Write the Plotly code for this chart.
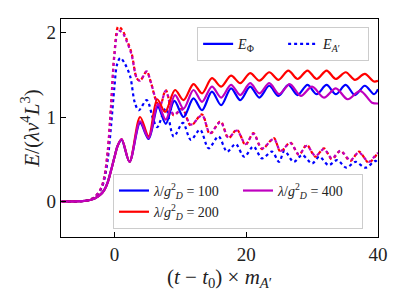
import plotly.graph_objects as go

# ---------------- data ----------------
# E_Phi (solid), lambda/g^2 = 100 (blue)
x_phi_100 = [-8, -5, -4, -3, -2, -1.5, -1, -0.5, 0, 0.5, 1.1, 2.3, 3.9, 5.2, 6.6, 7.8, 9.1, 10.5, 12.0, 13.3,
             14.8, 16.2, 17.7, 19.1, 20.6, 22.0, 23.5, 24.9, 26.4, 27.8, 29.3, 30.7, 32.2, 33.6, 35.1, 36.5, 38.0, 39.4, 40]
y_phi_100 = [0, 0.005, 0.012, 0.035, 0.09, 0.14, 0.23, 0.37, 0.52, 0.66, 0.73, 0.47, 0.93, 0.74, 1.12, 0.92, 1.19, 1.0, 1.22, 1.08,
             1.30, 1.14, 1.34, 1.20, 1.36, 1.23, 1.37, 1.25, 1.38, 1.26, 1.38, 1.27, 1.38, 1.27, 1.38, 1.26, 1.37, 1.27, 1.33]

# E_Phi (solid), lambda/g^2 = 200 (red)
x_phi_200 = [-8, -5, -4, -3, -2, -1.5, -1, -0.5, 0, 0.5, 1.1, 2.3, 3.9, 5.2, 6.5, 7.7, 9.2, 10.5, 12.0, 13.3,
             14.8, 16.2, 17.7, 19.1, 20.6, 22.0, 23.5, 24.9, 26.4, 27.8, 29.3, 30.7, 32.2, 33.6, 35.1, 36.5, 38.0, 39.4, 40]
y_phi_200 = [0, 0.005, 0.012, 0.035, 0.09, 0.14, 0.23, 0.37, 0.52, 0.66, 0.74, 0.47, 1.0, 0.77, 1.21, 1.06, 1.32, 1.20, 1.39, 1.28,
             1.46, 1.36, 1.49, 1.40, 1.52, 1.43, 1.53, 1.44, 1.55, 1.45, 1.55, 1.45, 1.55, 1.45, 1.53, 1.44, 1.51, 1.42, 1.43]

# E_Phi (solid), lambda/g^2 = 400 (magenta)
x_phi_400 = [-8, -5, -4, -3, -2, -1.5, -1, -0.5, 0, 0.5, 1.1, 2.3, 3.9, 5.2, 6.6, 7.8, 9.2, 10.5, 12.0, 13.3,
             14.8, 16.2, 17.7, 19.1, 20.6, 22.0, 23.5, 25.0, 26.6, 28.3, 30.0, 31.8, 33.6, 35.4, 37.3, 39.1, 40]
y_phi_400 = [0, 0.005, 0.012, 0.035, 0.09, 0.14, 0.23, 0.37, 0.52, 0.66, 0.74, 0.47, 0.95, 0.75, 1.15, 0.97, 1.26, 1.10, 1.32, 1.18,
             1.36, 1.23, 1.38, 1.26, 1.40, 1.28, 1.40, 1.27, 1.39, 1.25, 1.36, 1.23, 1.34, 1.21, 1.31, 1.17, 1.16]

# E_A' (dotted), lambda/g^2 = 100 (blue)
x_a_100 = [-8, -5, -4, -3, -2, -1.5, -1, -0.5, 0, 0.4, 0.9, 1.6, 2.4, 3.1, 3.7, 4.9, 5.9, 6.5, 7.8, 9.0, 10.4, 11.6,
           13.0, 14.3, 15.8, 17.1, 18.4, 19.7, 21.1, 22.4, 23.9, 25.0, 25.8, 27.2, 28.5, 30.0, 31.1, 32.5, 33.8, 35.2, 36.6, 38.1, 39.6, 40]
y_a_100 = [0, 0.005, 0.015, 0.05, 0.15, 0.27, 0.5, 0.9, 1.35, 1.62, 1.70, 1.63, 1.48, 1.17, 1.08, 1.20, 0.97, 0.88, 1.10, 0.77, 0.93, 0.73,
           0.85, 0.63, 0.77, 0.59, 0.68, 0.53, 0.65, 0.51, 0.59, 0.47, 0.60, 0.47, 0.55, 0.45, 0.53, 0.43, 0.49, 0.40, 0.47, 0.40, 0.48, 0.45]

# E_A' (dotted), lambda/g^2 = 200 (red)
x_a_200 = [-8, -5, -4, -3, -2, -1.5, -1, -0.5, 0, 0.6, 1.2, 1.9, 2.6, 3.4, 3.9, 4.9, 5.5, 6.3, 6.9, 7.8, 9.0, 10.3, 11.6,
           13.3, 14.5, 16.1, 17.3, 18.6, 19.9, 21.1, 22.4, 24.2, 25.2, 26.7, 28.0, 29.2, 30.5, 31.8, 33.0, 34.3, 35.8, 37.1, 38.6, 39.9, 40]
y_a_200 = [0, 0.005, 0.015, 0.05, 0.16, 0.3, 0.6, 1.15, 1.75, 2.07, 2.03, 1.91, 1.76, 1.46, 1.43, 1.54, 1.42, 1.2, 1.12, 1.32, 1.02, 1.10, 0.90,
           1.03, 0.80, 0.95, 0.75, 0.85, 0.67, 0.81, 0.62, 0.75, 0.59, 0.70, 0.55, 0.67, 0.53, 0.63, 0.50, 0.60, 0.48, 0.59, 0.46, 0.56, 0.56]

# E_A' (dotted), lambda/g^2 = 400 (magenta)
x_a_400 = [-8, -5, -4, -3, -2, -1.5, -1, -0.5, 0, 0.6, 1.2, 1.9, 2.6, 3.4, 3.9, 4.9, 5.5, 6.3, 6.9, 7.8, 9.0, 10.3, 11.6,
           13.3, 14.5, 16.1, 17.3, 18.6, 19.9, 21.1, 22.4, 24.2, 25.2, 26.7, 28.0, 29.2, 30.5, 31.8, 33.0, 34.3, 35.8, 37.1, 38.6, 39.9, 40]
y_a_400 = [0, 0.005, 0.015, 0.05, 0.16, 0.3, 0.6, 1.12, 1.72, 2.02, 2.00, 1.89, 1.74, 1.46, 1.43, 1.54, 1.42, 1.21, 1.13, 1.31, 1.03, 1.09, 0.91,
           1.02, 0.81, 0.94, 0.76, 0.84, 0.68, 0.80, 0.63, 0.74, 0.60, 0.69, 0.56, 0.66, 0.54, 0.62, 0.51, 0.60, 0.49, 0.58, 0.47, 0.57, 0.56]

x_ticks = [0, 20, 40]
y_ticks = [0, 1, 2]

BLUE = "#0000ff"
RED = "#ff0000"
MAG = "#bf00bf"
FONT = "Liberation Serif"
TXT = "#222222"

fig = go.Figure()

def add(x, y, color, dash, width):
    fig.add_trace(go.Scatter(
        x=x, y=y, mode="lines",
        line=dict(color=color, dash=dash, width=width, shape="spline", smoothing=0.9),
        showlegend=False, hoverinfo="skip",
    ))

add(x_a_100, y_a_100, BLUE, "dot", 2.2)
add(x_a_200, y_a_200, RED, "dot", 2.2)
add(x_a_400, y_a_400, MAG, "dot", 2.2)
add(x_phi_100, y_phi_100, BLUE, "solid", 2.2)
add(x_phi_200, y_phi_200, RED, "solid", 2.2)
add(x_phi_400, y_phi_400, MAG, "solid", 2.2)

# legend 1: line styles
fig.add_trace(go.Scatter(x=[None], y=[None], mode="lines", line=dict(color=BLUE, width=2.2),
                         name="<i>E</i><sub>Φ</sub>", legend="legend", legendrank=1))
fig.add_trace(go.Scatter(x=[None], y=[None], mode="lines", line=dict(color=BLUE, width=2.2, dash="dot"),
                         name="<i>E</i><sub><i>A</i>′</sub>", legend="legend", legendrank=2))
# legend 2: colours (row 1: 100, 400 ; row 2: 200)
lam = "<i>λ</i>/<i>g</i><sup>2</sup><sub><i>D</i></sub> = "
fig.add_trace(go.Scatter(x=[None], y=[None], mode="lines", line=dict(color=BLUE, width=2.2),
                         name=lam + "100", legend="legend2", legendrank=1))
fig.add_trace(go.Scatter(x=[None], y=[None], mode="lines", line=dict(color=MAG, width=2.2),
                         name=lam + "400", legend="legend2", legendrank=2))
fig.add_trace(go.Scatter(x=[None], y=[None], mode="lines", line=dict(color=RED, width=2.2),
                         name=lam + "200", legend="legend2", legendrank=3))

axis_common = dict(
    showgrid=False, zeroline=False, showline=True, linecolor="black", linewidth=1.2,
    mirror=True, ticks="inside", ticklen=5, tickwidth=1, tickcolor="black",
    tickfont=dict(family=FONT, size=19, color=TXT),
)

fig.update_layout(
    width=407, height=306,
    margin=dict(l=61, r=29, t=19, b=69),
    paper_bgcolor="white", plot_bgcolor="white",
    font=dict(family=FONT, color=TXT),
    xaxis=dict(range=[-8.1, 40], tickvals=x_ticks, ticktext=[str(v) for v in x_ticks],
               title=dict(text="(<i>t</i> − <i>t</i><sub>0</sub>) × <i>m</i><sub><i>A</i>′</sub>",
                          font=dict(family=FONT, size=21), standoff=2),
               **axis_common),
    yaxis=dict(range=[-0.42, 2.16], tickvals=y_ticks, ticktext=[str(v) for v in y_ticks],
               title=dict(text="<i>E</i>/(<i>λv</i><sup>4</sup><i>L</i><sup>3</sup>)",
                          font=dict(family=FONT, size=21), standoff=1),
               **axis_common),
    legend=dict(
        x=0.972, y=0.962, xanchor="right", yanchor="top", orientation="h",
        bgcolor="rgba(255,255,255,0.8)", bordercolor="#cccccc", borderwidth=1,
        font=dict(family=FONT, size=14, color=TXT), entrywidth=40, itemwidth=30,
    ),
    legend2=dict(
        x=0.164, y=0.037, xanchor="left", yanchor="bottom", orientation="h",
        bgcolor="rgba(255,255,255,0.8)", bordercolor="#cccccc", borderwidth=1,
        font=dict(family=FONT, size=14, color=TXT), entrywidth=79, itemwidth=30,
    ),
)

fig.write_html("out.html", config={"displayModeBar": False},
               post_script="document.body.style.margin='0';document.body.style.overflow='hidden';")
